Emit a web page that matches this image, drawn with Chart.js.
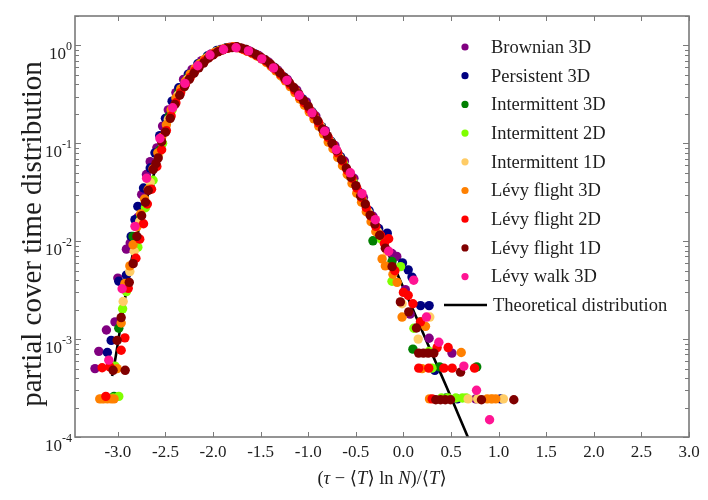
<!DOCTYPE html>
<html>
<head>
<meta charset="utf-8">
<script src="https://cdn.jsdelivr.net/npm/chart.js@4.4.1/dist/chart.umd.min.js"></script>
<style>
  html, body { margin: 0; padding: 0; background: #fff; }
  #wrap { width: 708px; height: 500px; }
</style>
</head>
<body>
<div id="wrap"><canvas id="chart" width="708" height="500"></canvas></div>
<script>
// values, [x, y]
const brownian3D = [
    [-3.24, 5.0e-4], [-3.20, 7.5e-4], [-3.12, 1.24e-3], [-3.03, 1.5e-3], [-3.00, 4.2e-3], [-2.91, 8.3e-3],
    [-2.87, 9.6e-3], [-2.79, 0.0175], [-2.75, 0.030], [-2.70, 0.048], [-2.66, 0.065], [-2.59, 0.09],
    [-2.53, 0.15], [-2.47, 0.22], [-2.39, 0.33], [-2.31, 0.45], [-2.22, 0.57], [-2.12, 0.70],
    [-2.02, 0.82], [-1.92, 0.91], [-1.82, 0.96], [-1.72, 0.95], [-1.62, 0.88], [-1.52, 0.79],
    [-1.42, 0.68], [-1.32, 0.56], [-1.22, 0.45], [-1.12, 0.35], [-1.02, 0.265], [-0.92, 0.19],
    [-0.82, 0.135], [-0.72, 0.095], [-0.62, 0.066], [-0.52, 0.044], [-0.42, 0.028], [-0.32, 0.018],
    [-0.22, 0.0115], [-0.12, 0.0075], [-0.07, 0.0070], [0.02, 3.2e-3], [0.07, 1.8e-3], [0.27, 1.02e-3],
    [0.51, 7.2e-4], [0.76, 2.45e-4],
];
const persistent3D = [
    [-3.11, 7.3e-4], [-3.07, 9.7e-4], [-2.99, 3.9e-3], [-2.91, 4.5e-3], [-2.86, 0.0112], [-2.82, 0.0166],
    [-2.79, 0.0227], [-2.73, 0.035], [-2.66, 0.056], [-2.61, 0.08], [-2.56, 0.12], [-2.50, 0.18],
    [-2.43, 0.27], [-2.36, 0.37], [-2.26, 0.51], [-2.16, 0.65], [-2.06, 0.78], [-1.96, 0.89],
    [-1.86, 0.95], [-1.76, 0.97], [-1.66, 0.91], [-1.56, 0.82], [-1.46, 0.72], [-1.36, 0.60],
    [-1.26, 0.48], [-1.16, 0.375], [-1.06, 0.285], [-0.96, 0.21], [-0.86, 0.148], [-0.76, 0.105],
    [-0.66, 0.073], [-0.56, 0.049], [-0.46, 0.0315], [-0.36, 0.0205], [-0.26, 0.0135], [-0.17, 0.0121],
    [-0.01, 6.0e-3], [0.05, 5.1e-3], [0.09, 4.3e-3], [0.18, 2.2e-3], [0.27, 2.2e-3], [0.33, 4.8e-4],
    [0.565, 2.45e-4], [1.02, 2.45e-4],
];
const intermittent3D = [
    [-3.04, 2.6e-4], [-2.99, 1.29e-3], [-2.84, 0.0112], [-2.76, 0.018], [-2.66, 0.036], [-2.56, 0.085],
    [-2.46, 0.19], [-2.36, 0.33], [-2.26, 0.47], [-2.16, 0.62], [-2.06, 0.76], [-1.96, 0.87],
    [-1.86, 0.94], [-1.76, 0.96], [-1.66, 0.90], [-1.56, 0.81], [-1.46, 0.71], [-1.36, 0.59],
    [-1.26, 0.47], [-1.16, 0.37], [-1.06, 0.275], [-0.96, 0.205], [-0.86, 0.145], [-0.76, 0.103],
    [-0.66, 0.07], [-0.56, 0.046], [-0.46, 0.030], [-0.32, 0.0101], [-0.24, 0.011], [-0.12, 0.0062],
    [0.10, 7.9e-4], [0.18, 1.5e-3], [0.38, 5.2e-4], [0.45, 2.5e-4], [0.77, 5.2e-4],
];
const intermittent2D = [
    [-3.05, 2.5e-4], [-2.99, 2.6e-4], [-3.03, 5.3e-4], [-2.95, 2.04e-3], [-2.91, 3.06e-3], [-2.79, 8.7e-3],
    [-2.71, 0.022], [-2.63, 0.042], [-2.53, 0.10], [-2.43, 0.22], [-2.33, 0.36], [-2.23, 0.50],
    [-2.13, 0.65], [-2.03, 0.79], [-1.93, 0.89], [-1.83, 0.95], [-1.73, 0.95], [-1.63, 0.87],
    [-1.53, 0.78], [-1.43, 0.67], [-1.33, 0.55], [-1.23, 0.44], [-1.13, 0.34], [-1.03, 0.25],
    [-0.93, 0.18], [-0.83, 0.128], [-0.73, 0.09], [-0.63, 0.062], [-0.53, 0.041], [-0.43, 0.026],
    [-0.33, 0.0165], [-0.23, 0.0105], [-0.12, 3.9e-3], [-0.03, 5.5e-3], [0.11, 1.29e-3], [0.27, 7.5e-4],
    [0.30, 5.05e-4], [0.40, 2.5e-4], [0.47, 2.5e-4], [0.55, 2.5e-4], [0.62, 2.5e-4], [0.66, 2.5e-4],
];
const intermittent1D = [
    [-3.17, 2.45e-4], [-2.944, 2.42e-3], [-2.874, 4.9e-3], [-2.828, 7.9e-3], [-2.77, 0.016], [-2.66, 0.040],
    [-2.57, 0.078], [-2.47, 0.175], [-2.37, 0.31], [-2.27, 0.45], [-2.17, 0.60], [-2.07, 0.74],
    [-1.97, 0.86], [-1.87, 0.93], [-1.77, 0.96], [-1.67, 0.90], [-1.57, 0.81], [-1.47, 0.72],
    [-1.37, 0.60], [-1.27, 0.48], [-1.17, 0.38], [-1.07, 0.28], [-0.97, 0.21], [-0.87, 0.15],
    [-0.77, 0.105], [-0.67, 0.072], [-0.57, 0.047], [-0.47, 0.031], [-0.37, 0.02], [-0.27, 0.0125],
    [-0.17, 0.0078], [-0.014, 2.3e-3], [0.155, 1.0e-3], [0.277, 1.68e-3], [0.68, 2.45e-4], [0.78, 2.45e-4],
    [0.92, 2.45e-4], [1.05, 2.45e-4],
];
const levyFlight3D = [
    [-3.19, 2.45e-4], [-3.15, 2.45e-4], [-3.11, 2.45e-4], [-3.07, 2.45e-4], [-3.04, 2.45e-4], [-3.007, 5.0e-4],
    [-2.965, 1.46e-3], [-2.926, 3.7e-3], [-2.874, 5.6e-3], [-2.84, 9.2e-3], [-2.80, 0.014], [-2.76, 0.019],
    [-2.72, 0.027], [-2.68, 0.034], [-2.63, 0.055], [-2.58, 0.08], [-2.54, 0.115], [-2.49, 0.155],
    [-2.44, 0.22], [-2.39, 0.29], [-2.34, 0.36], [-2.29, 0.43], [-2.24, 0.51], [-2.19, 0.58],
    [-2.14, 0.65], [-2.09, 0.72], [-2.04, 0.78], [-1.99, 0.84], [-1.94, 0.88], [-1.89, 0.92],
    [-1.84, 0.95], [-1.79, 0.97], [-1.74, 0.95], [-1.69, 0.92], [-1.64, 0.87], [-1.59, 0.83],
    [-1.54, 0.78], [-1.49, 0.73], [-1.44, 0.67], [-1.39, 0.61], [-1.34, 0.55], [-1.29, 0.49],
    [-1.24, 0.435], [-1.19, 0.38], [-1.14, 0.33], [-1.09, 0.285], [-1.04, 0.245], [-0.99, 0.21],
    [-0.94, 0.178], [-0.89, 0.15], [-0.84, 0.125], [-0.79, 0.103], [-0.74, 0.088], [-0.69, 0.072],
    [-0.64, 0.059], [-0.59, 0.048], [-0.54, 0.039], [-0.49, 0.031], [-0.44, 0.025], [-0.39, 0.02],
    [-0.34, 0.0158], [-0.29, 0.0125], [-0.224, 6.6e-3], [-0.19, 5.6e-3], [-0.11, 4.6e-3], [-0.066, 3.8e-3],
    [-0.014, 1.68e-3], [0.196, 5.0e-4], [0.232, 1.35e-3], [0.274, 2.45e-4], [0.607, 7.3e-4], [0.88, 2.45e-4],
    [0.93, 2.45e-4], [0.97, 2.45e-4],
];
const levyFlight2D = [
    [-3.165, 5.1e-4], [-3.126, 2.6e-4], [-3.084, 5.2e-4], [-2.965, 7.7e-4], [-2.926, 1.03e-3], [-2.891, 3.3e-3],
    [-2.81, 6.7e-3], [-2.77, 0.0105], [-2.73, 0.0151], [-2.69, 0.024], [-2.646, 0.034], [-2.59, 0.058],
    [-2.54, 0.086], [-2.49, 0.135], [-2.44, 0.19], [-2.39, 0.26], [-2.34, 0.33], [-2.29, 0.40],
    [-2.24, 0.47], [-2.19, 0.55], [-2.14, 0.62], [-2.09, 0.69], [-2.04, 0.76], [-1.99, 0.82],
    [-1.94, 0.87], [-1.89, 0.91], [-1.84, 0.94], [-1.79, 0.96], [-1.74, 0.95], [-1.69, 0.92],
    [-1.64, 0.88], [-1.59, 0.84], [-1.54, 0.79], [-1.49, 0.74], [-1.44, 0.69], [-1.39, 0.63],
    [-1.34, 0.57], [-1.29, 0.51], [-1.24, 0.45], [-1.19, 0.40], [-1.14, 0.35], [-1.09, 0.30],
    [-1.04, 0.26], [-0.99, 0.225], [-0.94, 0.195], [-0.89, 0.162], [-0.84, 0.137], [-0.79, 0.115],
    [-0.74, 0.097], [-0.69, 0.08], [-0.64, 0.066], [-0.59, 0.053], [-0.54, 0.044], [-0.49, 0.035],
    [-0.44, 0.028], [-0.39, 0.022], [-0.34, 0.018], [-0.29, 0.0142], [-0.24, 0.0115], [-0.20, 0.0095],
    [-0.155, 0.0106], [-0.09, 5.0e-3], [0.0, 3.0e-3], [0.05, 2.8e-3], [0.10, 2.3e-3], [0.161, 5.05e-4],
    [0.179, 1.5e-3], [0.266, 5.05e-4], [0.302, 2.45e-4], [0.354, 8.2e-4], [0.425, 5.05e-4], [0.47, 8.2e-4],
    [0.512, 5.05e-4], [0.747, 5.05e-4],
];
const levyFlight1D = [
    [-3.05, 4.8e-4], [-3.007, 9.7e-4], [-2.965, 1.66e-3], [-2.923, 4.8e-4], [-2.88, 3.8e-3], [-2.839, 5.9e-3],
    [-2.80, 0.0112], [-2.75, 0.0182], [-2.71, 0.025], [-2.68, 0.033], [-2.628, 0.054], [-2.60, 0.062],
    [-2.576, 0.071], [-2.54, 0.104], [-2.50, 0.13], [-2.45, 0.18], [-2.40, 0.25], [-2.35, 0.31],
    [-2.30, 0.38], [-2.25, 0.45], [-2.20, 0.52], [-2.15, 0.59], [-2.10, 0.66], [-2.05, 0.74],
    [-2.00, 0.80], [-1.95, 0.86], [-1.90, 0.90], [-1.85, 0.94], [-1.80, 0.95], [-1.75, 0.97],
    [-1.70, 0.94], [-1.65, 0.91], [-1.60, 0.86], [-1.55, 0.81], [-1.50, 0.76], [-1.45, 0.71],
    [-1.40, 0.65], [-1.35, 0.59], [-1.30, 0.53], [-1.25, 0.47], [-1.20, 0.42], [-1.15, 0.37],
    [-1.10, 0.32], [-1.05, 0.275], [-1.00, 0.24], [-0.95, 0.2], [-0.90, 0.17], [-0.85, 0.14],
    [-0.80, 0.12], [-0.75, 0.1], [-0.70, 0.084], [-0.65, 0.068], [-0.60, 0.056], [-0.55, 0.045],
    [-0.50, 0.037], [-0.45, 0.029], [-0.40, 0.024], [-0.35, 0.0185], [-0.30, 0.015], [-0.25, 0.0115],
    [-0.19, 0.0085], [-0.119, 5.5e-3], [-0.032, 2.4e-3], [0.056, 1.9e-3], [0.137, 1.3e-3], [0.16, 7.2e-4],
    [0.21, 7.2e-4], [0.26, 7.2e-4], [0.32, 7.2e-4], [0.34, 2.4e-4], [0.39, 2.4e-4], [0.44, 2.4e-4],
    [0.495, 2.4e-4], [0.60, 4.6e-4], [0.82, 2.4e-4], [1.16, 2.4e-4],
];
const levyWalk3D = [
    [-3.095, 6.1e-4], [-2.955, 3.27e-3], [-2.82, 0.0142], [-2.698, 0.044], [-2.558, 0.112], [-2.424, 0.231],
    [-2.295, 0.41], [-2.161, 0.62], [-2.032, 0.80], [-1.89, 0.91], [-1.758, 0.947], [-1.628, 0.88],
    [-1.488, 0.73], [-1.365, 0.59], [-1.224, 0.44], [-1.095, 0.31], [-0.961, 0.205], [-0.828, 0.133],
    [-0.705, 0.086], [-0.558, 0.05], [-0.435, 0.0306], [-0.295, 0.0166], [-0.155, 0.0079], [0.108, 4.0e-3],
    [0.242, 1.68e-3], [0.372, 9.3e-4], [0.635, 5.3e-4], [0.768, 3.0e-4], [0.905, 1.5e-4],
];
const theoretical = [
    [-3.06, 4.2e-4], [-3.03, 6.0e-4], [-2.98, 1.2e-3], [-2.93, 2.4e-3], [-2.87, 5.5e-3], [-2.80, 0.011],
    [-2.75, 0.0175], [-2.68, 0.031], [-2.61, 0.053], [-2.55, 0.09], [-2.45, 0.2], [-2.35, 0.34],
    [-2.25, 0.48], [-2.15, 0.63], [-2.05, 0.77], [-1.95, 0.88], [-1.85, 0.94], [-1.75, 0.96],
    [-1.65, 0.89], [-1.55, 0.80], [-1.45, 0.70], [-1.35, 0.58], [-1.25, 0.46], [-1.15, 0.36],
    [-1.05, 0.27], [-0.95, 0.2], [-0.85, 0.14], [-0.75, 0.1], [-0.65, 0.068], [-0.55, 0.045],
    [-0.45, 0.029], [-0.35, 0.0185], [-0.25, 0.0115], [-0.15, 0.0071], [-0.05, 0.0043], [0.05, 0.0026],
    [0.15, 0.00155], [0.25, 0.00092], [0.35, 0.00055], [0.45, 0.00033], [0.55, 0.000195], [0.65, 0.000115],
    [0.70, 0.000088],
];

const seriesLabels = ["Brownian 3D", "Persistent 3D", "Intermittent 3D", "Intermittent 2D", "Intermittent 1D",
    "Lévy flight 3D", "Lévy flight 2D", "Lévy flight 1D", "Lévy walk 3D"];
const seriesData = [brownian3D, persistent3D, intermittent3D, intermittent2D, intermittent1D,
    levyFlight3D, levyFlight2D, levyFlight1D, levyWalk3D];
const seriesColors = ["#800080", "#000080", "#008000", "#80ff00", "#ffcc66",
    "#ff8000", "#ff0000", "#800000", "#ff1493"];
const lineLabel = "Theoretical distribution";

const xTicks = [-3.0, -2.5, -2.0, -1.5, -1.0, -0.5, 0.0, 0.5, 1.0, 1.5, 2.0, 2.5, 3.0];
const yDecades = [-4, -3, -2, -1, 0];

const SERIF = '"Liberation Serif", "DejaVu Serif", serif';
const INK = "#1e1e1e";

const toPts = arr => arr.map(([x, y]) => ({x: x, y: y}));

const datasets = seriesData.map((arr, i) => ({
    label: seriesLabels[i],
    data: toPts(arr),
    backgroundColor: seriesColors[i],
    borderColor: seriesColors[i],
    pointRadius: 4.7,
    pointBorderWidth: 0,
    order: seriesData.length - i,   // later series drawn on top
}));
datasets.push({
    type: "line",
    label: lineLabel,
    data: toPts(theoretical),
    borderColor: "#000",
    borderWidth: 2.6,
    pointRadius: 0,
    fill: false,
    cubicInterpolationMode: "monotone",
    clip: 0,
    order: 100,
});

// frame, inward ticks, tick labels, titles and legend
const decorations = {
    id: "decorations",
    afterDatasetsDraw(chart) {
        const {ctx, chartArea: a} = chart;
        const xs = chart.scales.x, ys = chart.scales.y;
        ctx.save();

        ctx.strokeStyle = "#7a7a7a";
        ctx.lineWidth = 1.6;
        ctx.strokeRect(a.left, a.top, a.right - a.left, a.bottom - a.top);

        ctx.beginPath();
        ctx.lineWidth = 1;
        xTicks.forEach(v => {
            const px = Math.round(xs.getPixelForValue(v)) + 0.5;
            ctx.moveTo(px, a.bottom); ctx.lineTo(px, a.bottom - 5);
            ctx.moveTo(px, a.top); ctx.lineTo(px, a.top + 5);
        });
        yDecades.forEach(e => {
            for (let k = 1; k <= 9; k++) {
                const v = k * Math.pow(10, e);
                if (v > ys.max) break;
                const py = Math.round(ys.getPixelForValue(v)) + 0.5;
                const len = k === 1 ? 6 : 4;
                ctx.moveTo(a.left, py); ctx.lineTo(a.left + len, py);
                ctx.moveTo(a.right, py); ctx.lineTo(a.right - len, py);
            }
        });
        ctx.stroke();

        ctx.fillStyle = INK;
        // x tick labels
        ctx.font = "17px " + SERIF;
        ctx.textAlign = "center";
        ctx.textBaseline = "middle";
        xTicks.forEach(v => {
            ctx.fillText(v.toFixed(1), xs.getPixelForValue(v), a.bottom + 16);
        });

        // y tick labels 10^e
        yDecades.forEach(e => {
            const py = ys.getPixelForValue(Math.pow(10, e));
            const exp = String(e);
            ctx.font = "12px " + SERIF;
            const we = ctx.measureText(exp).width;
            const right = a.left - 3;
            ctx.textAlign = "left";
            ctx.textBaseline = "alphabetic";
            ctx.fillText(exp, right - we, py + 5);
            ctx.font = "17px " + SERIF;
            ctx.textAlign = "right";
            ctx.fillText("10", right - we, py + 13.5);
        });

        // y title
        ctx.save();
        ctx.translate(33, 234);
        ctx.rotate(-Math.PI / 2);
        ctx.font = "29px " + SERIF;
        ctx.textAlign = "center";
        ctx.textBaseline = "middle";
        ctx.fillText("partial cover time distribution", 0, 0);
        ctx.restore();

        // x title: (τ − ⟨T⟩ ln N)/⟨T⟩ with italic symbols
        const parts = [["(", false], ["τ", true], [" − ", false], ["⟨", false], ["T", true], ["⟩ ln ", false],
            ["N", true], [")/", false], ["⟨", false], ["T", true], ["⟩", false]];
        const fontFor = it => (it ? "italic " : "") + "18.5px " + SERIF;
        let total = 0;
        parts.forEach(([s, it]) => { ctx.font = fontFor(it); total += ctx.measureText(s).width; });
        let cx = (a.left + a.right) / 2 - total / 2;
        ctx.textAlign = "left";
        ctx.textBaseline = "middle";
        parts.forEach(([s, it]) => {
            ctx.font = fontFor(it);
            ctx.fillText(s, cx, 479);
            cx += ctx.measureText(s).width;
        });

        // legend
        ctx.font = "18.5px " + SERIF;
        ctx.textBaseline = "middle";
        seriesLabels.forEach((lab, i) => {
            const yy = 47 + i * 28.7;
            ctx.fillStyle = seriesColors[i];
            ctx.beginPath();
            ctx.arc(465, yy, 3.6, 0, Math.PI * 2);
            ctx.fill();
            ctx.fillStyle = INK;
            ctx.fillText(lab, 491, yy + 1);
        });
        ctx.strokeStyle = "#000";
        ctx.lineWidth = 2.6;
        ctx.beginPath();
        ctx.moveTo(444, 305); ctx.lineTo(487, 305);
        ctx.stroke();
        ctx.fillStyle = INK;
        ctx.fillText(lineLabel, 493, 306);

        ctx.restore();
    }
};

const ctx = document.getElementById("chart").getContext("2d");
new Chart(ctx, {
    type: "scatter",
    data: {datasets: datasets},
    options: {
        responsive: false,
        animation: false,
        events: [],
        layout: {padding: {left: 75, right: 19, top: 16, bottom: 63}},
        plugins: {legend: {display: false}, tooltip: {enabled: false}},
        scales: {
            x: {type: "linear", min: -3.45, max: 3.0, display: false},
            y: {type: "logarithmic", min: 1e-4, max: 2, display: false},
        },
    },
    plugins: [decorations],
});
</script>
</body>
</html>
